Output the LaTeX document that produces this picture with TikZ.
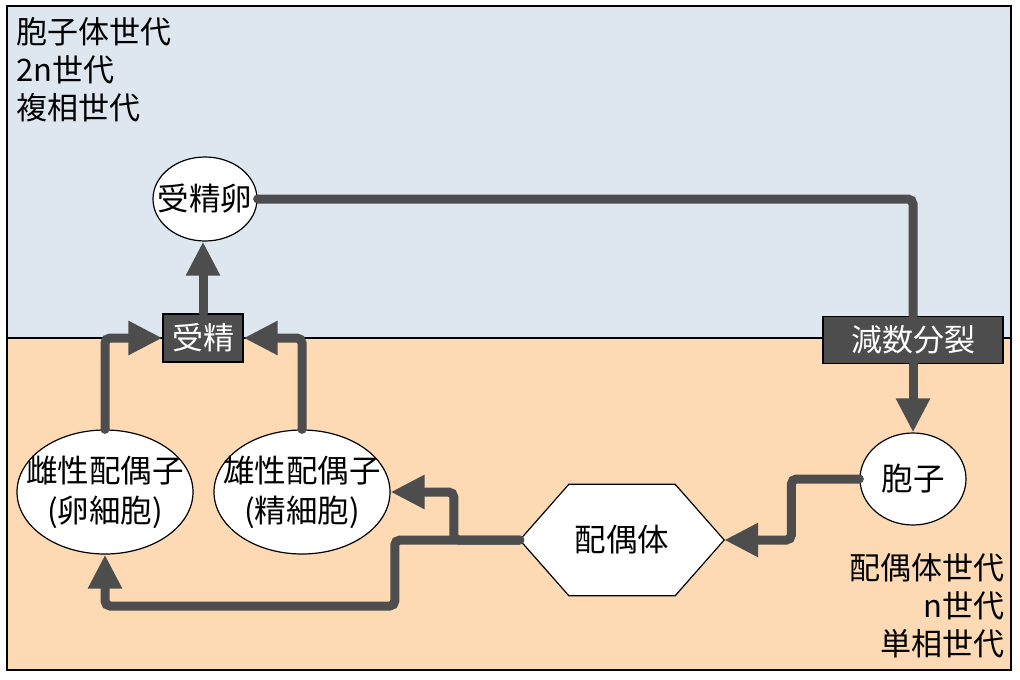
\documentclass[tikz,border=0pt]{standalone}
\usepackage{fontspec}
\setmainfont{Noto Sans CJK JP}
\usetikzlibrary{arrows.meta,shapes.geometric}
\definecolor{topbg}{HTML}{DEE6F0}
\definecolor{botbg}{HTML}{FDDAB3}
\definecolor{dk}{HTML}{4D4D4D}
\begin{document}
\begin{tikzpicture}[x=1pt,y=-1pt,
  conn/.style={draw=dk,line width=9pt,rounded corners=5pt,line cap=round},
  arr/.style={conn,-{Triangle[length=34pt,width=32pt]}},
  txt/.style={font=\fontsize{31}{38}\selectfont,inner sep=0pt},
  etxt/.style={font=\fontsize{31.5}{40}\selectfont,inner sep=0pt,align=center},
  ell/.style={ellipse,draw=black,line width=1.2pt,fill=white,inner sep=0pt},
  dbox/.style={rectangle,draw=black,line width=1.2pt,fill=dk,text=white,inner sep=0pt,font=\fontsize{31}{38}\selectfont}]
\useasboundingbox (0,0) rectangle (1020,680);
% backgrounds
\fill[topbg] (7,6) rectangle (1011,338);
\fill[botbg] (7,338) rectangle (1011,670);
\draw[line width=1.5pt] (7,338) -- (1011,338);
\draw[line width=1.5pt] (7,6) rectangle (1011,670);
% texts
\node[txt,anchor=west,align=left] (tl) at (16,70) {胞子体世代\\2n世代\\複相世代};
\node[txt,anchor=east,align=right] (br) at (1005,606) {配偶体世代\\n世代\\単相世代};
% nodes
\node[ell,minimum width=104pt,minimum height=84pt] (zyg) at (205,199) {};
\node[etxt] (zygt) at (zyg.center) {受精卵};
\node[dbox,minimum width=80pt,minimum height=48pt] (fert) at (203,338) {受精};
\node[dbox,minimum width=180pt,minimum height=47pt] (mei) at (913,340) {減数分裂};
\node[ell,minimum width=106pt,minimum height=92pt] (spore) at (913,479) {};
\node[etxt] (sporet) at (spore.center) {胞子};
\node[ell,minimum width=176pt,minimum height=124pt] (fem) at (105,492) {};
\node[etxt] (femt) at (fem.center) {雌性配偶子\\(卵細胞)};
\node[ell,minimum width=176pt,minimum height=124pt] (male) at (302,492) {};
\node[etxt] (malet) at (male.center) {雄性配偶子\\(精細胞)};
\node[minimum width=204pt,minimum height=111pt,inner sep=0pt] (gam) at (622,540) {};
\draw[line width=1.2pt,fill=white] (gam.west) -- ([xshift=49pt]gam.north west) -- ([xshift=-49pt]gam.north east) -- (gam.east) -- ([xshift=-49pt]gam.south east) -- ([xshift=49pt]gam.south west) -- cycle;
\node[etxt] (gamt) at (gam.center) {配偶体};
% connectors
\draw[conn] (zyg.east) -| (mei.north);
\draw[arr] (mei.south) -- (spore.north);
\draw[arr] (fert.north) -- (fert.north |- zyg.south);
\draw[arr] (fem.north) |- (fert.west);
\draw[arr] (male.north) |- (fert.east);
\draw[arr] (spore.west) -- ++(-68,0) |- (gam.east);
\draw[arr] (gam.west) -- ++(-66,0) |- (male.east);
\draw[arr] (gam.west) -- ++(-125,0) -- ++(0,66) -| (fem.south);
\end{tikzpicture}
\end{document}
